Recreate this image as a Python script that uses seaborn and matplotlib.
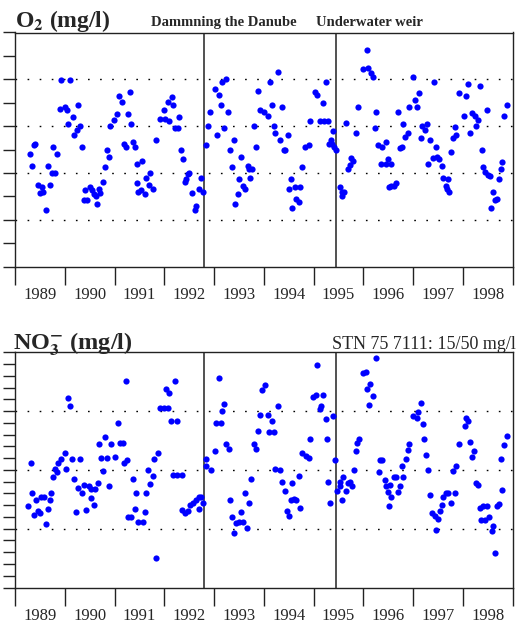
import numpy as np
import pandas as pd
import matplotlib
matplotlib.use("Agg")
import matplotlib.pyplot as plt
import seaborn as sns

# O2 samples (decimal year, mg/l)
o2_year = [
    1989.30, 1989.34, 1989.38, 1989.40, 1989.47, 1989.50, 1989.54, 1989.57, 1989.62, 1989.66,
    1989.70, 1989.74, 1989.76, 1989.81, 1989.85, 1989.90, 1989.93, 1990.01, 1990.05, 1990.07,
    1990.11, 1990.16, 1990.19, 1990.24, 1990.27, 1990.31, 1990.34, 1990.38, 1990.41, 1990.44,
    1990.50, 1990.54, 1990.59, 1990.62, 1990.65, 1990.69, 1990.70, 1990.77, 1990.81, 1990.85,
    1990.88, 1990.91, 1990.99, 1991.04, 1991.09, 1991.15, 1991.19, 1991.23, 1991.27, 1991.31,
    1991.34, 1991.38, 1991.42, 1991.45, 1991.46, 1991.48,
    1991.53, 1991.56, 1991.61, 1991.64, 1991.69, 1991.71, 1991.77, 1991.84, 1991.92, 1992.00,
    1992.01, 1992.07, 1992.10, 1992.15, 1992.18, 1992.21, 1992.28, 1992.30, 1992.34, 1992.38,
    1992.42, 1992.44, 1992.47, 1992.50, 1992.56, 1992.62, 1992.64, 1992.69, 1992.73, 1992.77,
    1992.84, 1992.87, 1992.92, 1993.01, 1993.05, 1993.09, 1993.13, 1993.16, 1993.20, 1993.24,
    1993.28, 1993.32, 1993.36, 1993.40, 1993.43, 1993.48, 1993.51, 1993.54, 1993.58, 1993.62,
    1993.68, 1993.71, 1993.73, 1993.76, 1993.81, 1993.85, 1993.89, 1993.93, 1994.00,
    1994.08, 1994.13, 1994.17, 1994.20, 1994.23, 1994.28, 1994.32, 1994.36, 1994.40, 1994.42,
    1994.48, 1994.50, 1994.54, 1994.57, 1994.62, 1994.65, 1994.70, 1994.73, 1994.77, 1994.83,
    1994.90, 1994.92, 1995.02, 1995.07, 1995.12, 1995.19, 1995.20, 1995.24, 1995.28, 1995.30,
    1995.34, 1995.36, 1995.38, 1995.41, 1995.44, 1995.52, 1995.58, 1995.58, 1995.62, 1995.66,
    1995.69, 1995.74, 1995.76, 1995.79, 1995.85, 1995.89, 1995.99, 1996.07, 1996.09, 1996.15,
    1996.19, 1996.23, 1996.26, 1996.30, 1996.36, 1996.38, 1996.45, 1996.45, 1996.50, 1996.52,
    1996.55, 1996.56, 1996.62, 1996.66, 1996.70, 1996.73, 1996.78, 1996.80, 1996.83, 1996.89,
    1996.91, 1997.00, 1997.03, 1997.08, 1997.11, 1997.15, 1997.18, 1997.23, 1997.27, 1997.29,
    1997.34, 1997.39, 1997.42, 1997.46, 1997.47, 1997.52, 1997.57, 1997.60, 1997.65, 1997.67,
    1997.69, 1997.72, 1997.77, 1997.81, 1997.84, 1997.87, 1997.92, 1998.03, 1998.06, 1998.11,
    1998.15, 1998.19, 1998.24, 1998.26, 1998.30, 1998.34, 1998.38, 1998.41, 1998.44, 1998.49,
    1998.50, 1998.54, 1998.56, 1998.60, 1998.64, 1998.68, 1998.72, 1998.76, 1998.79, 1998.83,
    1998.88,
]
o2_val = [
    9.6, 8.6, 10.4, 10.5, 7.0, 6.3, 6.8, 6.4, 4.8, 8.6,
    7.0, 8.0, 10.2, 8.0, 9.6, 13.5, 15.9, 13.6, 13.4, 12.2,
    15.9, 12.8, 11.2, 11.7, 13.8, 12.0, 10.2, 5.7, 6.5, 5.7,
    6.8, 6.5, 6.2, 6.0, 5.3, 6.6, 6.3, 7.2, 8.5, 10.0,
    9.4, 12.0, 12.5, 13.0, 14.6, 14.1, 10.5, 10.2, 13.0, 14.9,
    12.2, 10.6, 10.2, 8.8, 7.1, 6.4,
    6.5, 9.0, 6.2, 7.6, 7.0, 8.0, 6.6, 10.8, 12.6, 13.4,
    12.6, 14.1, 12.4, 14.5, 13.8, 11.8, 11.8, 12.8, 10.0, 9.2,
    7.2, 7.5, 7.9, 8.0, 6.3, 4.8, 5.2, 6.6, 7.6, 6.4,
    10.4, 12.0, 13.2, 15.2, 11.2, 14.7, 13.8, 15.8, 11.8, 16.0,
    13.2, 10.0, 8.5, 10.8, 5.3, 6.2, 7.5, 9.4, 6.9, 6.6,
    8.6, 8.3, 7.6, 8.3, 12.0, 10.2, 15.0, 13.4, 13.2,
    12.9, 15.8, 13.8, 12.0, 11.4, 16.6, 10.8, 13.6, 10.0, 10.0,
    11.2, 6.6, 7.5, 5.0, 6.8, 5.8, 5.5, 6.8, 8.5, 10.2,
    10.4, 12.4, 14.9, 14.7, 12.4, 14.0, 12.4, 15.8, 12.4, 10.5,
    10.8, 10.5, 11.6, 10.2, 10.0, 6.8, 6.4, 6.0, 6.4, 12.3,
    8.3, 8.7, 9.3, 9.0, 11.4, 13.6, 16.9, 18.5, 17.0, 16.5,
    16.2, 11.8, 13.2, 10.4, 8.8, 10.2, 10.6, 8.8, 9.2, 6.8,
    8.8, 6.9, 6.9, 7.1, 13.2, 10.1, 10.2, 12.2, 11.1, 11.4,
    13.6, 16.2, 14.2, 13.6, 14.8, 11.0, 12.0, 11.7, 12.2, 8.8,
    10.8, 9.3, 15.8, 10.2, 9.4, 9.2, 8.6, 7.6, 6.9, 6.6,
    7.5, 6.4, 9.8, 11.0, 11.9, 11.2, 14.8, 12.9, 14.6, 15.6,
    11.4, 13.1, 12.9, 12.0, 12.5, 15.4, 10.0, 8.5, 8.1, 13.4,
    7.8, 7.7, 5.0, 6.4, 5.7, 5.8, 7.5, 8.3, 8.9, 12.9,
    13.8,
]

# NO3- samples (decimal year, mg/l)
no3_year = [
    1989.27, 1989.32, 1989.35, 1989.38, 1989.43, 1989.47, 1989.50, 1989.53, 1989.58, 1989.62,
    1989.66, 1989.70, 1989.73, 1989.76, 1989.81, 1989.85, 1989.87, 1989.92, 1990.00, 1990.03,
    1990.07, 1990.11, 1990.15, 1990.19, 1990.23, 1990.27, 1990.31, 1990.34, 1990.39, 1990.42,
    1990.48, 1990.52, 1990.53, 1990.58, 1990.61, 1990.66, 1990.68, 1990.72, 1990.77, 1990.80,
    1990.85, 1990.88, 1990.92, 1991.01, 1991.07, 1991.11, 1991.17, 1991.19, 1991.23, 1991.26,
    1991.28, 1991.34, 1991.38, 1991.42, 1991.44, 1991.48, 1991.58, 1991.61, 1991.64, 1991.68,
    1991.72, 1991.77, 1991.80, 1991.83, 1991.88, 1991.92, 1992.00, 1992.03, 1992.08, 1992.10,
    1992.13, 1992.17, 1992.22, 1992.26, 1992.26, 1992.35, 1992.36, 1992.42, 1992.47, 1992.52,
    1992.57, 1992.64, 1992.69, 1992.69, 1992.74, 1992.77, 1992.83, 1992.84, 1992.93, 1993.01,
    1993.04, 1993.09, 1993.14, 1993.15, 1993.20, 1993.24, 1993.29, 1993.32, 1993.36, 1993.40,
    1993.44, 1993.51, 1993.54, 1993.58, 1993.62, 1993.66, 1993.70, 1993.75, 1993.81, 1993.85,
    1993.89, 1993.93, 1993.97, 1994.03, 1994.08, 1994.11, 1994.16, 1994.20, 1994.23, 1994.28,
    1994.32, 1994.37, 1994.43, 1994.46, 1994.50, 1994.54, 1994.57, 1994.60, 1994.65, 1994.70,
    1994.73, 1994.77, 1994.85, 1994.90, 1994.92, 1994.99, 1995.04, 1995.07, 1995.12, 1995.15,
    1995.19, 1995.24, 1995.27, 1995.28, 1995.32, 1995.38, 1995.42, 1995.47, 1995.52, 1995.54,
    1995.57, 1995.60, 1995.66, 1995.69, 1995.74, 1995.78, 1995.81, 1995.85, 1995.88, 1995.91,
    1995.99, 1996.05, 1996.07, 1996.11, 1996.14, 1996.19, 1996.26, 1996.31, 1996.34, 1996.38,
    1996.43, 1996.46, 1996.50, 1996.52, 1996.53, 1996.55, 1996.62, 1996.66, 1996.69, 1996.73,
    1996.77, 1996.80, 1996.85, 1996.89, 1996.92, 1997.00, 1997.08, 1997.10, 1997.15, 1997.19,
    1997.22, 1997.26, 1997.30, 1997.34, 1997.38, 1997.44, 1997.46, 1997.49, 1997.54, 1997.57,
    1997.60, 1997.66, 1997.70, 1997.77, 1997.81, 1997.84, 1997.87, 1997.92, 1998.04, 1998.06,
    1998.11, 1998.15, 1998.19, 1998.23, 1998.26, 1998.31, 1998.34, 1998.36, 1998.41, 1998.44,
    1998.48, 1998.52, 1998.58, 1998.61, 1998.64, 1998.68, 1998.73, 1998.76, 1998.79, 1998.83,
    1998.88,
]
no3_val = [
    6.9, 10.6, 8.0, 6.2, 7.4, 6.5, 6.3, 7.7, 7.7, 5.4,
    6.7, 7.4, 8.0, 9.4, 10.1, 9.8, 10.6, 10.9, 11.4, 10.1,
    16.1, 15.4, 10.9, 9.2, 6.4, 8.5, 10.9, 8.0, 8.7, 6.6,
    8.6, 8.4, 7.6, 7.0, 8.4, 8.9, 12.2, 11.0, 9.9, 12.8,
    11.0, 8.6, 12.2, 11.1, 14.0, 12.3, 12.3, 10.6, 17.6, 10.8,
    6.0, 6.0, 9.2, 6.7, 8.0, 5.6, 5.6, 6.4, 8.0, 10.0,
    8.8, 9.5, 10.9, 2.5, 11.4, 15.3, 15.3, 16.9, 15.3, 16.5,
    14.2, 9.6, 17.6, 14.2, 9.6, 9.6, 6.6, 6.3, 6.5, 7.0,
    7.2, 7.4, 7.7, 6.7, 7.7, 7.2, 10.3, 10.9, 10.0, 11.6,
    14.0, 17.8, 14.0, 15.0, 15.6, 12.2, 11.8, 7.4, 6.0, 4.6,
    5.5, 5.6, 6.4, 5.6, 8.0, 5.1, 7.2, 9.2, 12.2, 11.8,
    13.3, 14.7, 16.8, 17.2, 14.7, 13.2, 14.2, 13.2, 10.1, 15.4,
    10.0, 9.0, 8.2, 6.5, 6.1, 7.4, 8.9, 7.5, 7.4, 9.5,
    6.8, 11.4, 11.2, 11.0, 12.6, 16.2, 16.4, 18.9, 15.2, 15.4,
    16.4, 14.3, 12.6, 9.0, 7.2, 14.6, 10.8, 8.2, 9.0, 8.6,
    7.4, 9.4, 8.2, 8.9, 9.0, 8.6, 10.0, 11.6, 12.3, 12.6,
    18.2, 18.3, 16.9, 15.5, 17.3, 16.3, 19.5, 9.8, 10.8, 10.8,
    9.1, 8.6, 8.1, 6.9, 8.7, 7.7, 9.4, 9.4, 8.1, 8.6,
    10.3, 9.4, 10.9, 11.7, 12.2, 14.6, 14.4, 14.9, 15.7, 13.9,
    12.6, 11.3, 10.0, 7.9, 6.3, 6.1, 4.9, 5.8, 6.5, 7.0,
    7.7, 8.0, 8.0, 7.2, 9.9, 8.0, 10.3, 12.2, 13.7, 14.4,
    14.2, 12.4, 11.1, 11.6, 8.9, 8.7, 6.8, 5.7, 6.9, 5.7,
    6.9, 6.0, 4.8, 5.2, 2.9, 6.9, 7.1, 10.9, 8.3, 12.1,
    12.9,
]

years = list(range(1989, 1999))
event_year = [1992.79, 1995.45]   # damming of the Danube, underwater weir
o2_grid = [4, 8, 12, 16]
no3_grid = [5, 10, 15]

sns.set_style("white")
plt.rcParams['font.family'] = ['Liberation Serif', 'DejaVu Serif']
plt.rcParams['mathtext.fontset'] = 'stix'

W, H = 519, 627
fig = plt.figure(figsize=(W / 100, H / 100), dpi=100)

def fx(px):
    return px / W

def fy(py):
    return 1 - py / H

ax1 = fig.add_axes([fx(15), fy(266.5), fx(512.7) - fx(15), fy(32.5) - fy(266.5)])
ax2 = fig.add_axes([fx(15), fy(587.5), fx(512.7) - fx(15), fy(352.3) - fy(587.5)])

df_o2 = pd.DataFrame({"year": o2_year, "val": o2_val})
df_no3 = pd.DataFrame({"year": no3_year, "val": no3_val})

for ax, df, grid, ystep in [(ax1, df_o2, o2_grid, 2), (ax2, df_no3, no3_grid, 1)]:
    for g in grid:
        ax.axhline(g, color='black', lw=1.0, ls=(0, (1.2, 7.5)), zorder=1)
    for ev in event_year:
        ax.axvline(ev, color='#222222', lw=1.1, zorder=1)
    sns.scatterplot(data=df, x="year", y="val", ax=ax, color='#0000ff',
                    s=20, linewidth=0, marker='o', zorder=3, legend=False)
    ax.set_xlim(1989, 1999)
    ax.set_ylim(0, 20)
    ax.set_xlabel("")
    ax.set_ylabel("")
    ax.set_xticks(np.arange(1989, 2000))
    ax.set_xticklabels([])
    ax.set_xticks([y + 0.5 for y in years], minor=True)
    ax.set_xticklabels([str(y) for y in years], minor=True)
    ax.set_yticks(np.arange(0, 21, ystep))
    ax.set_yticklabels([])
    ax.tick_params(axis='x', which='major', bottom=True, direction='out',
                   length=13, width=1, color='#222222')
    ax.tick_params(axis='x', which='minor', bottom=True, length=0, pad=15, labelsize=12)
    ax.tick_params(axis='y', which='major', left=True, direction='out',
                   length=8.5, width=1, color='#222222')
    for sp in ax.spines.values():
        sp.set_visible(True)
        sp.set_color('#222222')
        sp.set_linewidth(1.0)

fig.text(fx(15), fy(27), r'O$_\mathbf{2}$ (mg/l)', fontsize=17, fontweight='bold', va='baseline')
fig.text(fx(151), fy(26), 'Dammning the Danube', fontsize=10.5, fontweight='bold', va='baseline')
fig.text(fx(316), fy(26), 'Underwater weir', fontsize=10.5, fontweight='bold', va='baseline')

fig.text(fx(13), fy(349), r'NO$_\mathbf{3}^{\mathbf{-}}$ (mg/l)', fontsize=17.5, fontweight='bold', va='baseline')
fig.text(fx(332), fy(349), 'STN 75 7111: 15/50 mg/l', fontsize=13, va='baseline')

fig.savefig("out.png", dpi=100)
